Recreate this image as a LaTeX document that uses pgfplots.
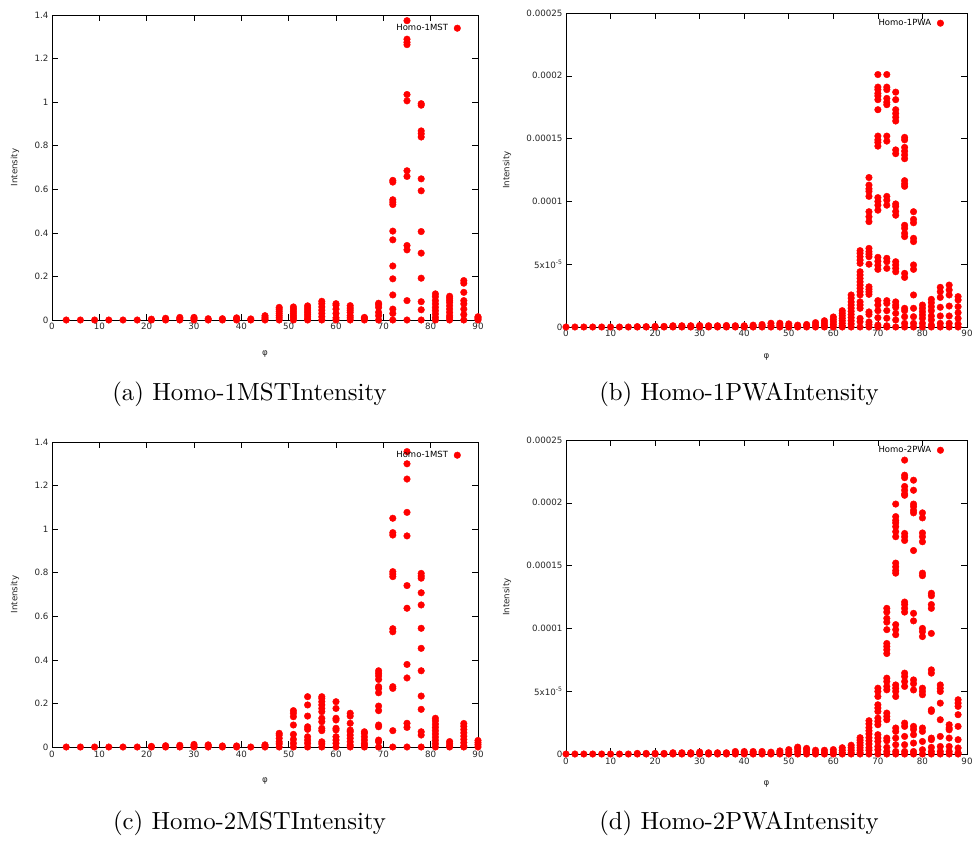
\documentclass[border=0pt]{standalone}
\usepackage{fontspec}
\usepackage{pgfplots}
\pgfplotsset{compat=1.18}
\newfontfamily\gp{DejaVu Sans}
\newfontfamily\capfont{lmroman10-regular.otf}
\pgfplotsset{
  gpdot/.style={draw=red, fill=red, only marks, mark=*, mark size=3.3pt, mark options={draw=red, fill=red}},
  gpaxis/.style={
    scale only axis,
    clip=false,
    xmin=0, xmax=90, ymin=0,
    xtick={0,10,...,90},
    scaled y ticks=false,
    axis line style={black, line width=0.8pt},
    tick align=inside,
    major tick length=6pt,
    tick style={black, line width=0.6pt},
    ticklabel style={font=\gp\fontsize{8.7}{10}\selectfont, text=black!85},
    label style={font=\gp\fontsize{8.7}{10}\selectfont, text=black!85},
    /pgf/number format/assume math mode=true,
    xlabel={φ},
    ylabel={Intensity},
    legend plot pos=right,
    legend cell align=right,
    legend style={draw=none, fill=none, font=\gp\fontsize{8.5}{10}\selectfont, anchor=north east, inner sep=1pt, column sep=4pt},
  },
  mstaxis/.style={gpaxis, width=426pt, height=305pt, ymax=1.4, ytick={0,0.2,...,1.4},
    yticklabels={0,0.2,0.4,0.6,0.8,1,1.2,1.4},
    ylabel style={at={(axis description cs:-0.087,0.5)}, anchor=center},
    xlabel style={at={(axis description cs:0.5,-0.111)}, anchor=center},
    legend style={at={(axis description cs:0.962,0.98)}}},
  pwaaxis/.style={gpaxis, width=401pt, height=314pt, ymax=25e-5, ytick={0,5e-5,10e-5,15e-5,20e-5,25e-5},
    yticklabels={0,{5x10\textsuperscript{-5}},0.0001,0.00015,0.0002,0.00025},
    ylabel style={at={(axis description cs:-0.147,0.5)}, anchor=center},
    xlabel style={at={(axis description cs:0.5,-0.096)}, anchor=center},
    legend style={at={(axis description cs:0.945,0.99)}}},
}
\begin{document}
\begin{tikzpicture}
\useasboundingbox (0pt,0pt) rectangle (976pt,-841pt);
% (a)
\begin{axis}[mstaxis, at={(52pt,-320pt)}, anchor=south west]
\addplot[gpdot] coordinates {
(3,0)(6,0)(9,0)(12,0)(15,0)(18,0)
(21,0)(21,0.004)
(24,0)(24,0.003)(24,0.008)
(27,0)(27,0.006)(27,0.012)
(30,0)(30,0.006)(30,0.012)
(33,0)(33,0.006)
(36,0)(36,0.006)
(39,0)(39,0.005)(39,0.01)
(42,0)(42,0.005)
(45,0)(45,0.005)(45,0.012)(45,0.02)
(48,0)(48,0.01)(48,0.02)(48,0.03)(48,0.04)(48,0.05)(48,0.058)
(51,0)(51,0.01)(51,0.02)(51,0.03)(51,0.04)(51,0.05)(51,0.06)
(54,0)(54,0.005)(54,0.015)(54,0.025)(54,0.035)(54,0.045)(54,0.055)(54,0.065)
(57,0)(57,0.015)(57,0.03)(57,0.045)(57,0.06)(57,0.075)(57,0.086)
(60,0)(60,0.01)(60,0.03)(60,0.05)(60,0.068)(60,0.075)
(63,0)(63,0.01)(63,0.02)(63,0.035)(63,0.045)(63,0.055)(63,0.066)
(66,0)(66,0.008)(66,0.012)
(69,0)(69,0.02)(69,0.035)(69,0.058)(69,0.07)(69,0.077)
(72,0)(72,0.03)(72,0.05)(72,0.115)(72,0.189)(72,0.248)(72,0.368)(72,0.408)(72,0.530)(72,0.541)(72,0.552)(72,0.633)(72,0.641)
(75,0)(75,0.089)(75,0.322)(75,0.342)(75,0.659)(75,0.685)(75,1.006)(75,1.035)(75,1.264)(75,1.275)(75,1.289)(75,1.374)
(78,0)(78,0.047)(78,0.084)(78,0.192)(78,0.307)(78,0.406)(78,0.593)(78,0.648)(78,0.840)(78,0.855)(78,0.868)(78,0.986)(78,0.993)
(81,0)(81,0.012)(81,0.028)(81,0.043)(81,0.058)(81,0.074)(81,0.089)(81,0.107)(81,0.12)
(84,0)(84,0.01)(84,0.02)(84,0.035)(84,0.05)(84,0.065)(84,0.08)(84,0.09)(84,0.1)(84,0.109)
(87,0)(87,0.025)(87,0.05)(87,0.074)(87,0.089)(87,0.127)(87,0.169)(87,0.181)
(90,0)(90,0.005)(90,0.01)(90,0.015)
};
\addlegendentry{Homo-1MST}
\end{axis}
% (b)
\begin{axis}[pwaaxis, at={(566pt,-327pt)}, anchor=south west]
\addplot[gpdot] coordinates {
(0,0)(2,0)(4,0)(6,0)(8,0)(10,0)(12,0)(14,0)
(16,0)(16,0.03e-5)(18,0)(18,0.03e-5)(20,0)(20,0.05e-5)(22,0)(22,0.05e-5)
(24,0)(24,0.05e-5)(24,0.1e-5)(26,0)(26,0.05e-5)(26,0.1e-5)(28,0)(28,0.05e-5)(28,0.1e-5)
(30,0)(30,0.05e-5)(30,0.12e-5)(32,0)(32,0.05e-5)(32,0.1e-5)(34,0)(34,0.05e-5)(34,0.1e-5)
(36,0)(36,0.05e-5)(36,0.12e-5)(38,0)(38,0.05e-5)(38,0.1e-5)(40,0)(40,0.05e-5)(40,0.1e-5)
(42,0)(42,0.05e-5)(42,0.15e-5)(44,0)(44,0.08e-5)(44,0.2e-5)(46,0)(46,0.1e-5)(46,0.3e-5)
(48,0)(48,0.15e-5)(48,0.3e-5)(50,0)(50,0.1e-5)(50,0.25e-5)(52,0)(52,0.05e-5)(52,0.15e-5)
(54,0)(54,0.1e-5)(54,0.2e-5)(56,0)(56,0.15e-5)(56,0.35e-5)
(58,0)(58,0.1e-5)(58,0.3e-5)(58,0.5e-5)
(60,0)(60,0.2e-5)(60,0.4e-5)(60,0.6e-5)(60,0.8e-5)
(62,0)(62,0.1e-5)(62,0.3e-5)(62,0.5e-5)(62,0.7e-5)(62,0.9e-5)(62,1.1e-5)(62,1.3e-5)
(64,0)(64,0.25e-5)(64,0.5e-5)(64,0.75e-5)(64,1.0e-5)(64,1.25e-5)(64,1.5e-5)(64,1.75e-5)(64,2.0e-5)(64,2.3e-5)(64,2.55e-5)
(66,0)(66,0.42e-5)(66,0.69e-5)(66,1.49e-5)(66,1.75e-5)(66,2.0e-5)(66,2.55e-5)(66,2.81e-5)(66,3.08e-5)(66,3.34e-5)(66,3.6e-5)(66,3.87e-5)(66,4.14e-5)(66,4.4e-5)(66,5.07e-5)(66,5.33e-5)(66,5.6e-5)(66,5.87e-5)(66,6.08e-5)
(68,0)(68,0.2e-5)(68,0.4e-5)(68,1.0e-5)(68,1.2e-5)(68,2.6e-5)(68,2.8e-5)(68,3.0e-5)(68,3.2e-5)(68,5.0e-5)(68,5.6e-5)(68,5.8e-5)(68,6.0e-5)(68,6.26e-5)(68,8.39e-5)(68,8.78e-5)(68,9.18e-5)(68,10.4e-5)(68,10.8e-5)(68,11.0e-5)(68,11.3e-5)(68,11.9e-5)
(70,0)(70,0.16e-5)(70,0.74e-5)(70,1.3e-5)(70,1.75e-5)(70,2.1e-5)(70,4.59e-5)(70,4.91e-5)(70,5.23e-5)(70,5.55e-5)(70,9.3e-5)(70,9.7e-5)(70,10.0e-5)(70,10.3e-5)(70,14.4e-5)(70,14.7e-5)(70,14.9e-5)(70,15.2e-5)(70,17.3e-5)(70,18.1e-5)(70,18.4e-5)(70,18.6e-5)(70,18.9e-5)(70,19.1e-5)(70,20.1e-5)
(72,0)(72,0.1e-5)(72,0.7e-5)(72,1.3e-5)(72,1.88e-5)(72,2.1e-5)(72,4.67e-5)(72,5.2e-5)(72,5.47e-5)(72,9.7e-5)(72,10.1e-5)(72,10.4e-5)(72,14.8e-5)(72,15.2e-5)(72,17.7e-5)(72,17.9e-5)(72,18.2e-5)(72,18.9e-5)(72,19.1e-5)(72,20.1e-5)
(74,0)(74,0.56e-5)(74,1.09e-5)(74,1.57e-5)(74,1.75e-5)(74,2.0e-5)(74,4.4e-5)(74,4.67e-5)(74,4.94e-5)(74,5.2e-5)(74,8.9e-5)(74,9.2e-5)(74,9.6e-5)(74,9.8e-5)(74,13.8e-5)(74,14.1e-5)(74,16.4e-5)(74,16.7e-5)(74,17.0e-5)(74,17.3e-5)(74,18.1e-5)(74,18.7e-5)
(76,0)(76,0.29e-5)(76,0.82e-5)(76,1.3e-5)(76,1.49e-5)(76,3.95e-5)(76,4.27e-5)(76,7.2e-5)(76,7.46e-5)(76,7.86e-5)(76,8.1e-5)(76,11.2e-5)(76,11.4e-5)(76,11.65e-5)(76,13.4e-5)(76,13.7e-5)(76,14.0e-5)(76,14.3e-5)(76,14.9e-5)(76,15.1e-5)
(78,0)(78,0.29e-5)(78,0.82e-5)(78,1.49e-5)(78,2.55e-5)(78,4.59e-5)(78,4.94e-5)(78,6.8e-5)(78,7.06e-5)(78,8.3e-5)(78,8.57e-5)(78,9.18e-5)
(80,0)(80,0.29e-5)(80,0.69e-5)(80,0.96e-5)(80,1.22e-5)(80,1.49e-5)(80,1.75e-5)
(82,0)(82,0.16e-5)(82,0.56e-5)(82,0.88e-5)(82,1.3e-5)(82,1.62e-5)(82,1.94e-5)(82,2.2e-5)
(84,0)(84,0.29e-5)(84,0.88e-5)(84,1.57e-5)(84,2.36e-5)(84,2.81e-5)(84,3.16e-5)
(86,0)(86,0.29e-5)(86,0.88e-5)(86,1.67e-5)(86,2.55e-5)(86,2.95e-5)(86,3.34e-5)
(88,0)(88,0.24e-5)(88,0.69e-5)(88,1.14e-5)(88,1.62e-5)(88,2.15e-5)(88,2.42e-5)
};
\addlegendentry{Homo-1PWA}
\end{axis}
% (c)
\begin{axis}[mstaxis, at={(52pt,-747pt)}, anchor=south west]
\addplot[gpdot] coordinates {
(3,0)(6,0)(9,0)(12,0)(15,0)(18,0)
(21,0)(21,0.003)
(24,0)(24,0.006)
(27,0)(27,0.008)
(30,0)(30,0.005)(30,0.012)
(33,0)(33,0.005)(33,0.01)
(36,0)(36,0.005)
(39,0)(39,0.005)
(42,0)
(45,0)(45,0.005)(45,0.01)
(48,0)(48,0.014)(48,0.024)(48,0.04)(48,0.055)(48,0.063)
(51,0)(51,0.017)(51,0.035)(51,0.058)(51,0.101)(51,0.139)(51,0.155)(51,0.167)
(54,0)(54,0.017)(54,0.032)(54,0.047)(54,0.081)(54,0.093)(54,0.142)(54,0.193)(54,0.231)
(57,0)(57,0.014)(57,0.024)(57,0.075)(57,0.086)(57,0.116)(57,0.132)(57,0.162)(57,0.177)(57,0.193)(57,0.208)(57,0.223)(57,0.231)
(60,0)(60,0.017)(60,0.032)(60,0.047)(60,0.078)(60,0.086)(60,0.124)(60,0.132)(60,0.177)(60,0.208)
(63,0)(63,0.009)(63,0.024)(63,0.04)(63,0.055)(63,0.07)(63,0.078)(63,0.109)(63,0.142)(63,0.155)
(66,0)(66,0.009)(66,0.017)(66,0.032)(66,0.047)(66,0.063)(66,0.07)
(69,0)(69,0.024)(69,0.032)(69,0.093)(69,0.101)(69,0.167)(69,0.188)(69,0.249)(69,0.269)(69,0.277)(69,0.31)(69,0.326)(69,0.338)(69,0.35)
(72,0)(72,0.075)(72,0.269)(72,0.277)(72,0.529)(72,0.543)(72,0.782)(72,0.794)(72,0.805)(72,0.973)(72,0.984)(72,1.05)
(75,0)(75,0.09)(75,0.109)(75,0.317)(75,0.379)(75,0.637)(75,0.741)(75,0.969)(75,1.077)(75,1.23)(75,1.30)(75,1.356)
(78,0)(78,0.055)(78,0.07)(78,0.173)(78,0.234)(78,0.35)(78,0.453)(78,0.545)(78,0.652)(78,0.708)(78,0.775)(78,0.785)(78,0.797)
(81,0)(81,0.015)(81,0.03)(81,0.045)(81,0.06)(81,0.075)(81,0.09)(81,0.105)(81,0.12)(81,0.132)
(84,0)(84,0.005)(84,0.015)(84,0.025)
(87,0)(87,0.005)(87,0.02)(87,0.035)(87,0.05)(87,0.065)(87,0.08)(87,0.095)(87,0.108)
(90,0)(90,0.01)(90,0.02)(90,0.03)
};
\addlegendentry{Homo-1MST}
\end{axis}
% (d)
\begin{axis}[pwaaxis, at={(566pt,-754pt)}, anchor=south west]
\addplot[gpdot] coordinates {
(0,0)(2,0)(4,0)(6,0)(8,0)(10,0)(12,0)(14,0)
(16,0)(16,0.05e-5)(18,0)(18,0.05e-5)(20,0)(20,0.05e-5)(22,0)(22,0.05e-5)
(24,0)(24,0.05e-5)(24,0.1e-5)(26,0)(26,0.05e-5)(26,0.1e-5)(28,0)(28,0.05e-5)(28,0.1e-5)(30,0)(30,0.05e-5)(30,0.15e-5)
(32,0)(32,0.05e-5)(32,0.1e-5)(34,0)(34,0.05e-5)(34,0.1e-5)(36,0)(36,0.05e-5)(36,0.1e-5)
(38,0)(38,0.1e-5)(38,0.2e-5)(40,0)(40,0.1e-5)(40,0.2e-5)(42,0)(42,0.1e-5)(42,0.2e-5)(44,0)(44,0.1e-5)(44,0.2e-5)
(46,0)(46,0.05e-5)(46,0.15e-5)(48,0)(48,0.1e-5)(48,0.25e-5)(50,0)(50,0.15e-5)(50,0.35e-5)
(52,0)(52,0.2e-5)(52,0.4e-5)(52,0.55e-5)(54,0)(54,0.15e-5)(54,0.35e-5)(54,0.45e-5)
(56,0)(56,0.1e-5)(56,0.3e-5)(58,0)(58,0.1e-5)(58,0.3e-5)(60,0)(60,0.15e-5)(60,0.35e-5)
(62,0)(62,0.1e-5)(62,0.3e-5)(62,0.5e-5)
(64,0)(64,0.1e-5)(64,0.3e-5)(64,0.5e-5)(64,0.7e-5)
(66,0)(66,0.1e-5)(66,0.3e-5)(66,0.5e-5)(66,0.7e-5)(66,0.9e-5)(66,1.1e-5)(66,1.3e-5)
(68,0)(68,0.3e-5)(68,0.5e-5)(68,0.8e-5)(68,1.05e-5)(68,1.3e-5)(68,1.6e-5)(68,1.85e-5)(68,2.1e-5)(68,2.4e-5)(68,2.65e-5)
(70,0)(70,0.34e-5)(70,0.6e-5)(70,1.0e-5)(70,1.27e-5)(70,1.54e-5)(70,2.33e-5)(70,2.6e-5)(70,2.86e-5)(70,3.39e-5)(70,3.66e-5)(70,3.92e-5)(70,4.58e-5)(70,4.98e-5)(70,5.24e-5)
(72,0)(72,0.2e-5)(72,0.53e-5)(72,1.06e-5)(72,1.27e-5)(72,2.73e-5)(72,2.99e-5)(72,3.26e-5)(72,5.11e-5)(72,5.38e-5)(72,5.77e-5)(72,6.04e-5)(72,8.0e-5)(72,8.3e-5)(72,8.56e-5)(72,8.8e-5)(72,9.9e-5)(72,10.5e-5)(72,10.8e-5)(72,11.3e-5)(72,11.6e-5)
(74,0)(74,0.2e-5)(74,0.74e-5)(74,1.27e-5)(74,1.8e-5)(74,2.07e-5)(74,4.58e-5)(74,4.98e-5)(74,5.24e-5)(74,5.5e-5)(74,9.5e-5)(74,9.9e-5)(74,10.3e-5)(74,14.4e-5)(74,14.6e-5)(74,14.9e-5)(74,15.2e-5)(74,17.3e-5)(74,17.7e-5)(74,18.1e-5)(74,18.4e-5)(74,18.6e-5)(74,18.9e-5)(74,19.9e-5)
(76,0)(76,0.2e-5)(76,0.74e-5)(76,1.4e-5)(76,2.2e-5)(76,2.46e-5)(76,5.38e-5)(76,5.77e-5)(76,6.17e-5)(76,6.44e-5)(76,11.3e-5)(76,11.6e-5)(76,11.9e-5)(76,12.1e-5)(76,17.0e-5)(76,17.3e-5)(76,17.56e-5)(76,20.6e-5)(76,20.7e-5)(76,21.0e-5)(76,21.3e-5)(76,22.0e-5)(76,22.2e-5)(76,23.4e-5)
(78,0)(78,0.2e-5)(78,0.87e-5)(78,1.54e-5)(78,1.96e-5)(78,2.2e-5)(78,5.1e-5)(78,5.6e-5)(78,5.9e-5)(78,10.6e-5)(78,11.2e-5)(78,16.2e-5)(78,19.2e-5)(78,19.4e-5)(78,19.7e-5)(78,19.9e-5)(78,21.0e-5)(78,21.8e-5)
(80,0)(80,0.34e-5)(80,1.0e-5)(80,1.8e-5)(80,2.07e-5)(80,4.72e-5)(80,4.98e-5)(80,5.24e-5)(80,9.35e-5)(80,9.75e-5)(80,10.0e-5)(80,14.2e-5)(80,14.4e-5)(80,16.9e-5)(80,17.3e-5)(80,17.6e-5)(80,18.8e-5)(80,19.2e-5)
(82,0)(82,0.2e-5)(82,0.53e-5)(82,1.14e-5)(82,1.27e-5)(82,3.39e-5)(82,3.52e-5)(82,6.44e-5)(82,6.7e-5)(82,9.6e-5)(82,11.6e-5)(82,11.9e-5)(82,12.6e-5)(82,12.8e-5)
(84,0)(84,0.2e-5)(84,0.6e-5)(84,1.4e-5)(84,2.73e-5)(84,4.05e-5)(84,4.98e-5)(84,5.24e-5)(84,5.5e-5)
(86,0)(86,0.2e-5)(86,0.6e-5)(86,1.27e-5)(86,1.93e-5)(86,2.07e-5)(86,2.33e-5)
(88,0)(88,0.1e-5)(88,0.48e-5)(88,1.14e-5)(88,2.2e-5)(88,3.13e-5)(88,3.79e-5)(88,4.05e-5)(88,4.32e-5)
};
\addlegendentry{Homo-2PWA}
\end{axis}
\node[anchor=base, font=\capfont\fontsize{24.8}{29}\selectfont, inner sep=0pt] at (249.5pt,-400pt) {(a) Homo-1MSTIntensity};
\node[anchor=base, font=\capfont\fontsize{24.8}{29}\selectfont, inner sep=0pt] at (739pt,-400pt) {(b) Homo-1PWAIntensity};
\node[anchor=base, font=\capfont\fontsize{24.8}{29}\selectfont, inner sep=0pt] at (249.5pt,-829pt) {(c) Homo-2MSTIntensity};
\node[anchor=base, font=\capfont\fontsize{24.8}{29}\selectfont, inner sep=0pt] at (739pt,-829pt) {(d) Homo-2PWAIntensity};
\end{tikzpicture}
\end{document}
